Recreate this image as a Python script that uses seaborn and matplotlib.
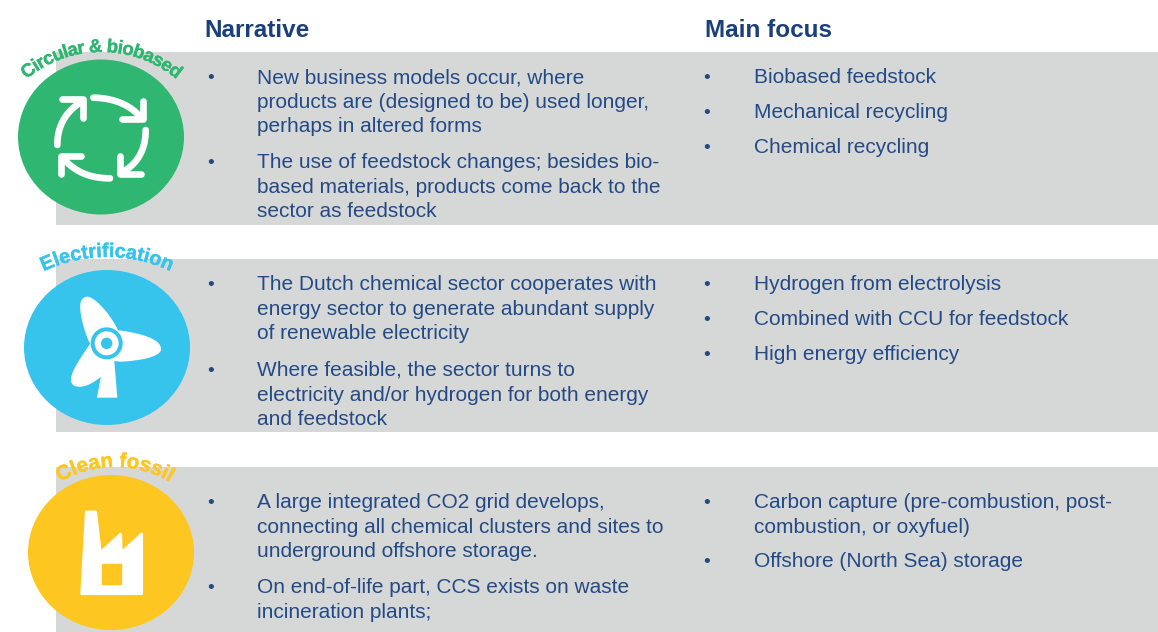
import numpy as np
import seaborn as sns
import matplotlib
matplotlib.use("Agg")
import matplotlib.pyplot as plt
from matplotlib.patches import Ellipse, Rectangle, Polygon
from matplotlib.font_manager import FontProperties
from matplotlib.textpath import text_to_path
import matplotlib.patheffects as pe

sns.set_theme(style="white")
plt.rcParams["font.family"] = ["Liberation Sans", "DejaVu Sans"]

# ---- content
headers = ["Narrative", "Main focus"]
themes = ["Circular & biobased", "Electrification", "Clean fossil"]
narrative = [
    [["New business models occur, where", "products are (designed to be) used longer,", "perhaps in altered forms"],
     ["The use of feedstock changes; besides bio-", "based materials, products come back to the", "sector as feedstock"]],
    [["The Dutch chemical sector cooperates with", "energy sector to generate abundant supply", "of renewable electricity"],
     ["Where feasible, the sector turns to", "electricity and/or hydrogen for both energy", "and feedstock"]],
    [["A large integrated CO2 grid develops,", "connecting all chemical clusters and sites to", "underground offshore storage."],
     ["On end-of-life part, CCS exists on waste", "incineration plants;"]],
]
focus = [
    [["Biobased feedstock"], ["Mechanical recycling"], ["Chemical recycling"]],
    [["Hydrogen from electrolysis"], ["Combined with CCU for feedstock"], ["High energy efficiency"]],
    [["Carbon capture (pre-combustion, post-", "combustion, or oxyfuel)"], ["Offshore (North Sea) storage"]],
]

# ---- style / layout
NAVY = "#244A85"
HEAD = "#1A3F7A"
GREY = "#D6D8D8"
GREEN, BLUE, YELLOW = "#2FB771", "#36C3EC", "#FEC621"
W, H = 1158, 632
BODY = 15.0
LEAD = 24.6

fig = plt.figure(figsize=(W / 100, H / 100), dpi=100)
ax = fig.add_axes([0, 0, 1, 1])
ax.set_xlim(0, W)
ax.set_ylim(H, 0)
ax.axis("off")
sns.despine(ax=ax, left=True, bottom=True)

for y0, y1 in [(52, 225), (259, 432), (467, 632)]:
    ax.add_patch(Rectangle((56, y0), W - 56, y1 - y0, fc=GREY, ec="none", zorder=1))

ax.text(204.5, 37, headers[0], color=HEAD, fontsize=17.5, fontweight="bold", zorder=5)
ax.text(705, 37, headers[1], color=HEAD, fontsize=17.5, fontweight="bold", zorder=5)


def block(paras, x_bullet, x_text, starts):
    for para, y in zip(paras, starts):
        ax.text(x_bullet, y, "•", color=NAVY, fontsize=14, zorder=5)
        for i, line in enumerate(para):
            ax.text(x_text, y + i * LEAD, line, color=NAVY, fontsize=BODY, zorder=5)


block(narrative[0], 207, 257, [83, 168])
block(narrative[1], 207, 257, [290, 376])
block(narrative[2], 207, 257, [508, 593])
block(focus[0], 703, 754, [83, 118, 153])
block(focus[1], 703, 754, [290, 325, 360])
block(focus[2], 703, 754, [508, 567])

# ---- circles
ellipses = [(101, 137, GREEN), (107, 347.5, BLUE), (111, 552.5, YELLOW)]
for cx, cy, c in ellipses:
    ax.add_patch(Ellipse((cx, cy), 166, 155, fc=c, ec="none", zorder=2))


def curved(text, cx, cy, r, color, size, spacing=0.0):
    fp = FontProperties(family="Liberation Sans", weight="bold", size=size)
    width = lambda s: text_to_path.get_text_width_height_descent(s, fp, False)[0] / 0.72
    total = width(text) + spacing * (len(text) - 1)
    for i, ch in enumerate(text):
        if ch == " ":
            continue
        mid = width(text[: i + 1]) - width(ch) / 2 + spacing * i
        th = (mid - total / 2) / r
        t = ax.text(cx + r * np.sin(th), cy - r * np.cos(th), ch, color=color,
                    fontproperties=fp, rotation=-np.degrees(th), rotation_mode="anchor",
                    ha="center", va="baseline", zorder=6)
        t.set_path_effects([pe.withStroke(linewidth=0.25, foreground=color)])


curved(themes[0], 101.5, 169, 117, GREEN, 13.4, -0.7)
curved(themes[1], 107, 405, 148, BLUE, 14.3, 0.0)
curved(themes[2], 115, 575, 108, YELLOW, 14.8, 0.0)


# ---- icons (zoom-crop coordinates mapped to figure pixels)
def Z(pts, oy):
    return [(x / 3, oy + y / 3) for x, y in pts]


def smooth(pts, n=12):
    """Closed Catmull-Rom outline through the given icon points."""
    p = np.array(pts, float)
    out = []
    for i in range(len(p)):
        p0, p1, p2, p3 = p[i - 1], p[i], p[(i + 1) % len(p)], p[(i + 2) % len(p)]
        for t in np.linspace(0, 1, n, endpoint=False):
            out.append(0.5 * (2 * p1 + (p2 - p0) * t + (2 * p0 - 5 * p1 + 4 * p2 - p3) * t ** 2
                              + (3 * p1 - p0 - 3 * p2 + p3) * t ** 3))
    return out


ICON = dict(color="white", lw=4.8, solid_capstyle="round", solid_joinstyle="round", zorder=4)
cycle = [
    ((280, 203), (375, 205), (425, 265), (430, 212), (430, 268), (367, 268)),
    ((437, 300), (437, 385), (370, 425), (360, 377), (360, 433), (423, 433)),
    ((330, 445), (240, 445), (190, 385), (243, 377), (182, 377), (182, 433)),
    ((172, 345), (172, 260), (245, 215), (187, 207), (248, 207), (248, 263)),
]
for a, b, c, l1, k, l2 in cycle:
    t = np.linspace(0, 1, 30)[:, None]
    curve = (1 - t) ** 2 * np.array(a) + 2 * t * (1 - t) * np.array(b) + t ** 2 * np.array(c)
    cp = np.array(Z(curve, 30))
    ax.plot(cp[:, 0], cp[:, 1], **ICON)
    head = np.array(Z([l1, k, l2], 30))
    ax.plot(head[:, 0], head[:, 1], **ICON)

# turbine
OY2 = 235
ax.add_patch(Polygon(Z([(310, 385), (343, 380), (352, 488), (291, 488)], OY2), fc="white", ec="none", zorder=4))
blades = [
    [(270, 325), (250, 272), (241, 225), (244, 197), (262, 185), (290, 200), (330, 245), (358, 300), (340, 335), (295, 345)],
    [(345, 286), (420, 298), (468, 318), (483, 342), (468, 360), (420, 374), (345, 378), (320, 345), (325, 305)],
    [(270, 328), (238, 375), (217, 415), (214, 442), (232, 455), (268, 448), (314, 415), (348, 365), (320, 325), (290, 315)],
]
for b in blades:
    ax.add_patch(Polygon(Z(smooth(b), OY2), fc="white", ec="none", zorder=4))
hx, hy = 320 / 3, OY2 + 325 / 3
for rad, col in [(16, BLUE), (12, "white"), (5.7, BLUE)]:
    ax.add_patch(Ellipse((hx, hy), 2 * rad, 2 * rad, fc=col, ec="none", zorder=5))

# factory
OY3 = 440
ax.add_patch(Polygon(Z([(259, 216), (287, 216), (301, 338), (362, 282), (364, 338), (425, 282), (425, 461), (245, 461)], OY3),
                     fc="white", ec="white", lw=2, joinstyle="round", zorder=4))
ax.add_patch(Polygon(Z([(305, 371), (364, 371), (364, 431), (305, 431)], OY3), fc=YELLOW, ec=YELLOW, lw=1,
                     joinstyle="round", zorder=5))

fig.savefig("out.png", dpi=100)
